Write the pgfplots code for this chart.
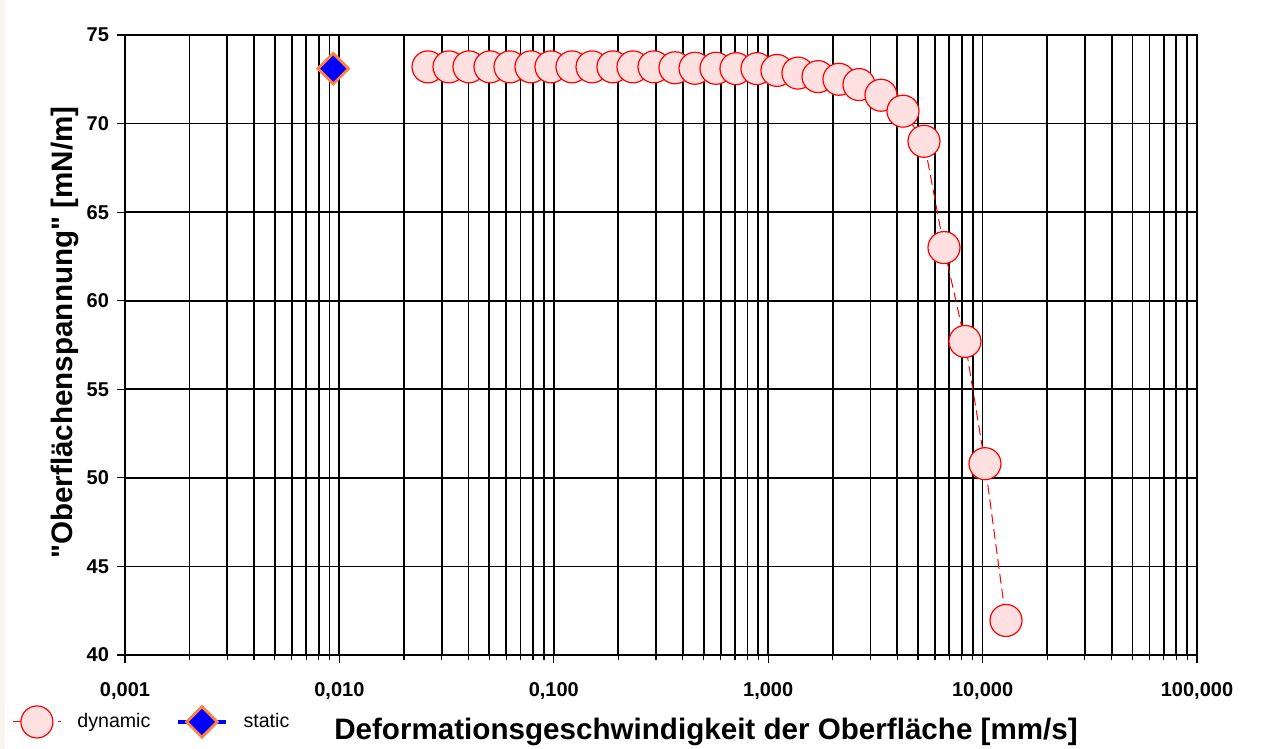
\documentclass[border=0pt]{standalone}
\usepackage{fontspec}
\setmainfont{Liberation Sans}[Ligatures=TeXOff]
\usepackage{pgfplots}
\pgfplotsset{compat=1.18}
\definecolor{dynfill}{HTML}{FFE0E0}
\definecolor{dynred}{HTML}{FF0000}
\definecolor{statorange}{HTML}{FF8040}
\definecolor{statblue}{HTML}{0000FF}
\definecolor{beige}{HTML}{F7F5EC}
\begin{document}
\begin{tikzpicture}
\fill[white] (-62.5pt,-47pt) rectangle (572pt,327.5pt);
\fill[beige] (-62.5pt,-47pt) rectangle (-60pt,327.5pt);
\begin{axis}[
  at={(0pt,0pt)}, anchor=south west,
  scale only axis, width=536pt, height=310pt,
  xmode=log, log basis x=10,
  xmin=0.001, xmax=100, ymin=40, ymax=75,
  xtick={0.001,0.01,0.1,1,10,100},
  xticklabels={{0,001},{0,010},{0,100},{1,000},{10,000},{100,000}},
  minor xtick={0.002,0.003,0.004,0.005,0.006,0.007,0.008,0.009,
               0.02,0.03,0.04,0.05,0.06,0.07,0.08,0.09,
               0.2,0.3,0.4,0.5,0.6,0.7,0.8,0.9,
               2,3,4,5,6,7,8,9,20,30,40,50,60,70,80,90},
  ytick={40,45,50,55,60,65,70,75},
  yticklabels={40,45,50,55,60,65,70,75},
  tick pos=left, tick align=outside,
  major tick length=4pt, minor tick length=2.5pt,
  every tick/.style={black, line width=0.6pt},
  xmajorgrids, xminorgrids, ymajorgrids,
  major grid style={black, line width=0.9pt},
  minor grid style={black, line width=0.9pt},
  axis line style={black, line width=0.9pt},
  xticklabel style={font=\bfseries\fontsize{10}{12}\selectfont, yshift=-6pt},
  yticklabel style={font=\bfseries\fontsize{10}{12}\selectfont, xshift=-0.5pt},
  xlabel={Deformationsgeschwindigkeit der Oberfläche [mm/s]},
  xlabel style={font=\bfseries\fontsize{14.8}{16}\selectfont, at={(rel axis cs:0.542,0)}, anchor=center, yshift=-38.5pt},
  ylabel={"Oberflächenspannung" [mN/m]},
  ylabel style={font=\bfseries\fontsize{14.8}{16}\selectfont, at={(rel axis cs:0,0.52)}, anchor=center, yshift=30pt},
  legend columns=2,
  legend style={at={(rel axis cs:-0.1054,-0.108)}, anchor=west, draw=none, fill=none,
     font=\fontsize{9.8}{11}\selectfont, inner sep=0pt,
     /tikz/every even column/.append style={column sep=11pt}},
  legend image code/.code={\draw[mark repeat=2,mark phase=2] plot coordinates {(0pt,0pt) (12pt,0pt) (24pt,0pt)};\path (30pt,0pt);},
  clip=false,
]
\addplot[dynred, line width=0.5pt, dash pattern=on 5pt off 2.5pt,
  mark=*, mark size=8pt, mark options={solid, fill=dynfill, draw=dynred, line width=0.6pt}]
coordinates {
(0.02590,73.2) (0.03245,73.2) (0.04023,73.2) (0.05041,73.2) (0.06248,73.2)
(0.07831,73.2) (0.09703,73.2) (0.1216,73.2) (0.1508,73.2) (0.1888,73.2)
(0.2341,73.2) (0.2934,73.2) (0.3675,73.15) (0.4557,73.12) (0.5709,73.12)
(0.7077,73.1) (0.8867,73.1) (1.099,73.0) (1.377,72.85) (1.708,72.65)
(2.139,72.5) (2.652,72.2) (3.358,71.6) (4.253,70.7) (5.330,69.0)
(6.607,63.0) (8.278,57.7) (10.26,50.8) (12.86,41.95)
};
\addlegendentry{dynamic}
\addplot[statblue, line width=1.6pt,
  mark=square*, mark size=5.4pt, mark options={rotate=45, fill=statblue, draw=statorange, line width=1.4pt}]
coordinates {(0.00937,73.1)};
\addlegendentry{static}
\end{axis}
\pgfresetboundingbox
\path (-62.5pt,-47pt) rectangle (572pt,327.5pt);
\end{tikzpicture}
\end{document}
